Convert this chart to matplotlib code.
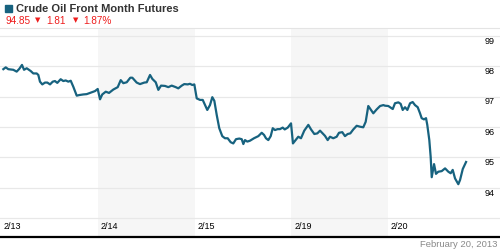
import matplotlib
matplotlib.use("Agg")
import matplotlib.pyplot as plt
import matplotlib.transforms as mtransforms
from matplotlib.patches import Rectangle
from matplotlib.lines import Line2D

plt.rcParams['font.family'] = ['Liberation Sans', 'DejaVu Sans']

# trading days shown on the axis
day_labels = ['2/13', '2/14', '2/15', '2/19', '2/20']
y_ticks = [94, 95, 96, 97, 98, 99]
grid_levels = [93, 94, 95, 96, 97, 98, 99]

# time in trading-day units (0 = open of 2/13) and front-month price
times = [0.021, 0.046, 0.072, 0.124, 0.159, 0.186, 0.214, 0.235, 0.263, 0.304,
         0.331, 0.366, 0.383, 0.400, 0.424, 0.452, 0.476, 0.504, 0.532, 0.555,
         0.579, 0.614, 0.641, 0.666, 0.693, 0.718, 0.745, 0.780, 0.807, 0.848,
         0.883, 0.935, 0.969, 0.997,
         1.021, 1.044, 1.080, 1.114, 1.158, 1.204, 1.235, 1.262, 1.297, 1.334,
         1.355, 1.400, 1.434, 1.479, 1.504, 1.538, 1.562, 1.597, 1.624, 1.652,
         1.693, 1.727, 1.762, 1.804, 1.830, 1.866, 1.892, 1.928, 1.951, 1.975,
         1.996,
         2.021, 2.055, 2.083, 2.107, 2.130, 2.158, 2.182, 2.203, 2.228, 2.254,
         2.285, 2.313, 2.341, 2.372, 2.399, 2.427, 2.461, 2.486, 2.503, 2.520,
         2.544, 2.572, 2.613, 2.658, 2.693, 2.717, 2.737, 2.761, 2.786, 2.807,
         2.830, 2.858, 2.882, 2.910, 2.931, 2.962, 2.996,
         3.016, 3.044, 3.071, 3.099, 3.133, 3.175, 3.203, 3.237, 3.268, 3.296,
         3.330, 3.347, 3.375, 3.399, 3.433, 3.468, 3.492, 3.526, 3.554, 3.582,
         3.609, 3.640, 3.675, 3.709, 3.743, 3.768, 3.795, 3.823, 3.847, 3.882,
         3.917, 3.951, 3.968,
         4.002, 4.048, 4.071, 4.106, 4.130, 4.151, 4.175, 4.199, 4.227, 4.254,
         4.278, 4.306, 4.330, 4.347, 4.371, 4.392, 4.405, 4.426, 4.440, 4.451,
         4.475, 4.495, 4.519, 4.554, 4.589, 4.623, 4.647, 4.668, 4.692, 4.726,
         4.744, 4.772, 4.806]
prices = [97.90, 97.96, 97.90, 97.88, 97.82, 97.91, 98.04, 97.88, 97.93, 97.84,
          97.76, 97.76, 97.71, 97.49, 97.40, 97.46, 97.46, 97.40, 97.49, 97.51,
          97.45, 97.57, 97.51, 97.53, 97.49, 97.52, 97.32, 97.03, 97.05, 97.07,
          97.08, 97.14, 97.18, 97.25,
          96.91, 97.07, 97.16, 97.12, 97.23, 97.31, 97.54, 97.44, 97.47, 97.62,
          97.62, 97.46, 97.41, 97.46, 97.47, 97.71, 97.58, 97.47, 97.22, 97.36,
          97.35, 97.31, 97.36, 97.31, 97.27, 97.36, 97.41, 97.40, 97.42, 97.38,
          97.40,
          96.94, 96.89, 96.89, 96.72, 96.56, 96.72, 96.98, 96.86, 96.39, 95.96,
          95.70, 95.63, 95.63, 95.50, 95.46, 95.60, 95.62, 95.60, 95.44, 95.57,
          95.52, 95.55, 95.63, 95.70, 95.81, 95.74, 95.63, 95.57, 95.70, 95.96,
          95.90, 95.93, 95.93, 95.98, 95.92, 95.98, 96.12,
          95.46, 95.57, 95.68, 95.63, 95.88, 96.07, 95.92, 95.77, 95.79, 95.88,
          95.77, 95.71, 95.57, 95.68, 95.63, 95.68, 95.81, 95.83, 95.70, 95.77,
          95.79, 95.92, 96.04, 96.01, 95.99, 96.17, 96.69, 96.56, 96.45, 96.58,
          96.69, 96.72, 96.70,
          96.69, 96.59, 96.78, 96.81, 96.76, 96.56, 96.65, 96.56, 96.78, 96.82,
          96.72, 96.65, 96.45, 96.29, 96.25, 96.29, 96.07, 95.57, 95.02, 94.35,
          94.78, 94.46, 94.53, 94.55, 94.64, 94.53, 94.48, 94.59, 94.31, 94.12,
          94.26, 94.62, 94.85]

last_price = '94.85'
change = '1.81'
change_pct = '1.87%'
title = 'Crude Oil Front Month Futures'
stamp = 'February 20, 2013'

teal = '#17627f'
red = '#ee1c1c'

fig = plt.figure(figsize=(5, 2.5), dpi=100)
ax = fig.add_axes([0.0, 0.052, 1.0, 0.834])
ax.set_xlim(-0.0134, 5.157)
ax.set_ylim(92.385, 99.237)

# alternating day shading
for k in range(len(day_labels)):
    if k % 2 == 1:
        ax.axvspan(k, k + 1, color='#f6f6f6', lw=0, zorder=0)

for g in grid_levels:
    ax.axhline(g, color='#e8e8e8', lw=0.9, zorder=1)

ax.plot(times, prices, color=teal, lw=1.6, zorder=3, solid_joinstyle='round')

# labels
xtrans = mtransforms.blended_transform_factory(ax.transData, ax.transAxes)
for k, lab in enumerate(day_labels):
    ax.text(k + 0.028, 0.048, lab, transform=xtrans, ha='left', va='center',
            fontsize=6.5, color='black')
ytrans = mtransforms.blended_transform_factory(ax.transAxes, ax.transData)
for v in y_ticks:
    ax.text(0.989, v - 0.03, str(v), transform=ytrans, ha='right', va='top',
            fontsize=6.5, color='black')

for s in ['top', 'left', 'right']:
    ax.spines[s].set_visible(False)
ax.spines['bottom'].set_color('black')
ax.spines['bottom'].set_linewidth(1.6)
ax.set_xticks([])
ax.set_yticks([])

# header
W, H = 500.0, 250.0
fig.patches.append(Rectangle((5 / W, 1 - 12.3 / H), 7 / W, 7 / H,
                             transform=fig.transFigure, color=teal))
fig.text(16 / W, 1 - 12.3 / H, title, fontsize=8, fontweight='bold',
         color='#333333', va='baseline', ha='left')
fig.text(5 / W, 1 - 24 / H, last_price, fontsize=7.2, color=red, va='baseline')
fig.text(35 / W, 1 - 22 / H, '\u25bc', fontsize=5, color=red, va='baseline',
         family='DejaVu Sans')
fig.text(46 / W, 1 - 24 / H, change, fontsize=7.2, color=red, va='baseline')
fig.text(72.5 / W, 1 - 22 / H, '\u25bc', fontsize=5, color=red, va='baseline',
         family='DejaVu Sans')
fig.text(83 / W, 1 - 24 / H, change_pct, fontsize=7.2, color=red, va='baseline')
fig.add_artist(Line2D([0, 1], [1 - 28.3 / H, 1 - 28.3 / H], color='#e4e4e4',
                      lw=0.8, transform=fig.transFigure))

fig.text(497 / W, 1 - 247 / H, stamp, fontsize=6.8, color='#8a8a8a',
         ha='right', va='baseline')

fig.savefig('out.png', dpi=100)
